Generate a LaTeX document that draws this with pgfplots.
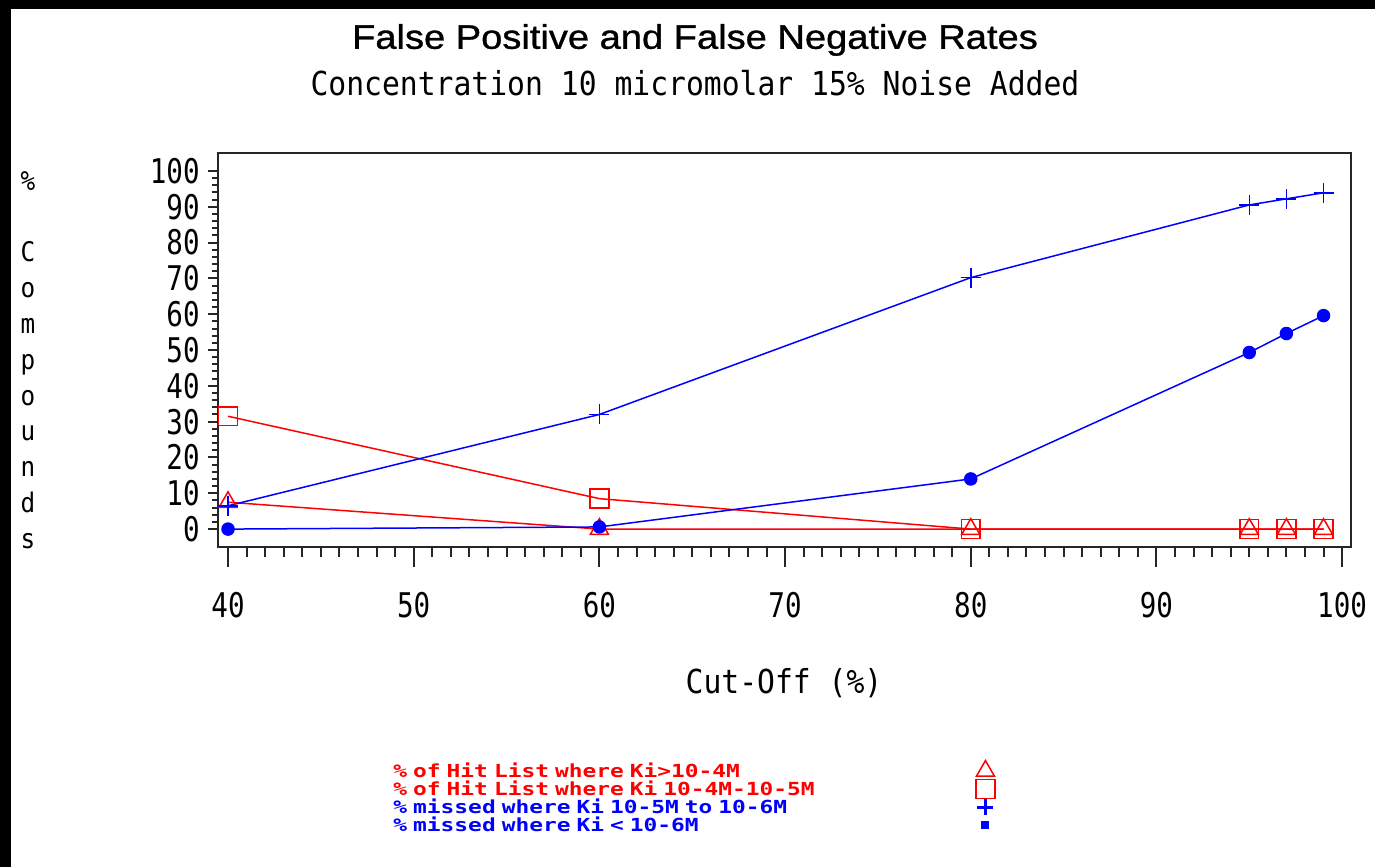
\documentclass[border=0pt]{standalone}
\usepackage{pgfplots}
\pgfplotsset{compat=1.18}
\usepackage{fontspec}
\usepackage{graphicx}
\newfontfamily\titlefont[FakeStretch=1.12,FakeBold=1]{Liberation Sans}
\newfontfamily\subfont[FakeStretch=0.9]{DejaVu Sans Mono}
\newfontfamily\tickfont[FakeStretch=0.81]{DejaVu Sans Mono}
\newfontfamily\legfont[FakeStretch=1.27]{DejaVu Sans Mono Bold}
\definecolor{sasred}{RGB}{255,0,0}
\definecolor{sasblue}{RGB}{0,0,255}

\pgfplotsset{
  common/.style={
    at={(109pt,160pt)}, anchor=south west, scale only axis,
    width=566.5pt, height=197pt,
    xmin=39.46, xmax=100.48, ymin=-5, ymax=105,
    tick align=outside,
    tick style={line width=1pt, black!85},
    /pgf/number format/assume math mode=true,
  }
}

\begin{document}
\begin{tikzpicture}
\begin{scope}[x=0.5pt,y=0.5pt]
\path[use as bounding box] (0,0) rectangle (1375,867);
\fill[white] (0,0) rectangle (1375,867);
\fill[black] (0,858) rectangle (1375,867);
\fill[black] (0,0) rectangle (11,867);
\node[font=\titlefont\fontsize{17}{20}\selectfont] at (695,827) {False Positive and False Negative Rates};
\node[font=\subfont\fontsize{16.5}{20}\selectfont] at (695,784) {Concentration 10 micromolar 15\% Noise Added};
\node[font=\subfont\fontsize{16.5}{20}\selectfont] at (784,184) {Cut-Off (\%)};
\node[font=\subfont\fontsize{13.5}{17.9}\selectfont, align=center, inner sep=0pt] at (28,507) {\%\\~\\C\\o\\m\\p\\o\\u\\n\\d\\s};
\end{scope}
% x ticks only
\begin{axis}[common,
  axis line style={draw=none},
  ytick=\empty,
  xtick={40,50,...,100}, minor x tick num=9,
  xtick pos=bottom,
  major tick length=10pt, minor tick length=5pt,
  xticklabel style={font=\tickfont\fontsize{17}{20}\selectfont, inner sep=0pt, yshift=-12.5pt},
]
\end{axis}
% main axis
\begin{axis}[common,
  axis line style={line width=1pt, draw=black!85},
  xtick=\empty,
  ytick={0,10,...,100}, minor y tick num=4,
  ytick pos=left,
  major tick length=5pt, minor tick length=3pt,
  yticklabel style={font=\tickfont\fontsize{17}{20}\selectfont, inner sep=0pt, xshift=-4pt},
  legend plot pos=right, legend cell align=left,
  legend style={at={(axis description cs:0.1545,-0.548)}, anchor=north west, draw=none, fill=none,
    inner sep=0pt, row sep=0pt, column sep=0pt,
    font=\legfont\fontsize{9}{11}\selectfont,
    nodes={inner sep=0pt, text height=6.9pt, text depth=1.95pt, text width=291pt, align=left}},
  legend image code/.code={\pgfinterruptboundingbox\draw[#1] plot[only marks] coordinates {(0pt,0.6pt)};\endpgfinterruptboundingbox\path[draw=none,fill=none] (-5pt,-4.65pt) rectangle (5pt,4.2pt);},
  clip=false,
]
\addplot[sasred, line width=0.75pt, mark=triangle, mark size=5.2pt] coordinates {
  (40,7.5) (60,0) (80,0) (95,0) (97,0) (99,0)};
\addlegendentry[text=sasred]{\% of Hit List where Ki>10-4M}
\addplot[sasred, line width=0.75pt, mark=square, mark size=4.7pt] coordinates {
  (40,31.5) (60,8.5) (80,0) (95,0) (97,0) (99,0)};
\addlegendentry[text=sasred]{\% of Hit List where Ki 10-4M-10-5M}
\addplot[sasblue, line width=0.75pt, mark=+, mark size=5pt, legend image post style={mark size=4pt, mark options={line width=1.6pt}}] coordinates {
  (40,6.5) (60,32) (80,70.2) (95,90.5) (97,92.2) (99,93.9)};
\addlegendentry[text=sasblue]{\% missed where Ki 10-5M to 10-6M}
\addplot[sasblue, line width=0.75pt, mark=*, mark size=3pt, legend image post style={mark=square*, mark size=1.6pt}] coordinates {
  (40,0) (60,0.6) (80,14) (95,49.3) (97,54.6) (99,59.6)};
\addlegendentry[text=sasblue]{\% missed where Ki < 10-6M}
\end{axis}
\end{tikzpicture}
\end{document}
